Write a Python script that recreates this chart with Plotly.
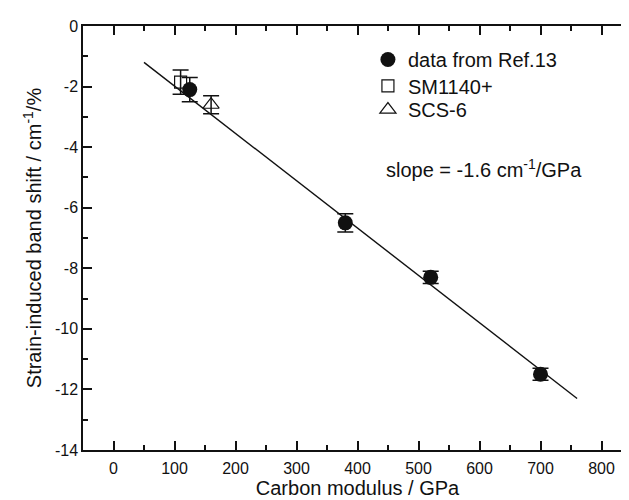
import plotly.graph_objects as go

# Data
ref13_modulus = [125, 380, 520, 700]
ref13_shift = [-2.1, -6.5, -8.3, -11.5]
ref13_err = [0.4, 0.3, 0.2, 0.2]

sm1140_modulus = [110]
sm1140_shift = [-1.85]
sm1140_err = [0.4]

scs6_modulus = [160]
scs6_shift = [-2.6]
scs6_err = [0.3]

fit_modulus = [50, 760]
fit_shift = [-1.2, -12.3]

x_ticks = [0, 100, 200, 300, 400, 500, 600, 700, 800]
y_ticks = [-14, -12, -10, -8, -6, -4, -2, 0]
y_ticktext = ["-14", "-12", "-10", "-8", "-6", "-4", "-2", "0"]

X_RANGE = [-50, 850]
Y_RANGE = [-14, 0]

FONT = "Arial, Liberation Sans, sans-serif"
BLACK = "#111111"

fig = go.Figure()

fig.add_trace(go.Scatter(
    x=fit_modulus, y=fit_shift, mode="lines",
    line=dict(color=BLACK, width=1.4), showlegend=False, hoverinfo="skip",
))

# one legend per series so the rows can sit as tight as in the original
fig.add_trace(go.Scatter(
    x=ref13_modulus, y=ref13_shift, mode="markers", name="data from Ref.13", legend="legend",
    marker=dict(symbol="circle", size=15, color=BLACK),
    error_y=dict(type="data", array=ref13_err, color=BLACK, thickness=1.5, width=8),
))
fig.add_trace(go.Scatter(
    x=sm1140_modulus, y=sm1140_shift, mode="markers", name="SM1140+", legend="legend2",
    marker=dict(symbol="square-open", size=12, color=BLACK, line=dict(width=1.2)),
    error_y=dict(type="data", array=sm1140_err, color=BLACK, thickness=1.5, width=8),
))
fig.add_trace(go.Scatter(
    x=scs6_modulus, y=scs6_shift, mode="markers", name="SCS-6", legend="legend3",
    marker=dict(symbol="triangle-up-open", size=14, color=BLACK, line=dict(width=1.2)),
    error_y=dict(type="data", array=scs6_err, color=BLACK, thickness=1.5, width=8),
))

# slope label
fig.add_annotation(
    x=0.548, y=0.665, xref="paper", yref="paper", xanchor="left", yanchor="middle",
    text="slope = -1.6 cm<sup>-1</sup>/GPa", showarrow=False,
    font=dict(family=FONT, size=20, color=BLACK),
)

axis_common = dict(
    showline=True, linecolor=BLACK, linewidth=1.5, mirror="ticks",
    ticks="inside", ticklen=9, tickwidth=1.6, tickcolor=BLACK,
    showgrid=False, zeroline=False, automargin=False,
    tickfont=dict(family=FONT, size=16, color=BLACK),
)
x_minor = dict(ticks="inside", ticklen=5, tickwidth=1.6, tickcolor=BLACK, dtick=50, tick0=0)
y_minor = dict(ticks="inside", ticklen=5, tickwidth=1.6, tickcolor=BLACK, dtick=1, tick0=0)

fig.update_layout(
    xaxis=dict(
        range=X_RANGE, tickvals=x_ticks, minor=x_minor, ticklabelstandoff=3,
        title=dict(text="Carbon modulus / GPa", font=dict(family=FONT, size=20, color=BLACK), standoff=4),
        **axis_common,
    ),
    yaxis=dict(
        range=Y_RANGE, tickvals=y_ticks, ticktext=y_ticktext, minor=y_minor,
        title=dict(text="Strain-induced band shift / cm<sup>-1</sup>/%", font=dict(family=FONT, size=20, color=BLACK), standoff=8),
        **axis_common,
    ),
)

legend_style = dict(
    x=0.519, xanchor="left", yanchor="middle",
    bgcolor="rgba(0,0,0,0)", font=dict(family=FONT, size=20, color=BLACK),
)

fig.update_layout(
    width=629, height=500,
    margin=dict(l=75, r=5, t=18, b=58),
    plot_bgcolor="white", paper_bgcolor="white",
    font=dict(family=FONT, color=BLACK),
    legend=dict(y=0.921, **legend_style),
    legend2=dict(y=0.859, **legend_style),
    legend3=dict(y=0.803, **legend_style),
)

fig.write_html("out.html")
